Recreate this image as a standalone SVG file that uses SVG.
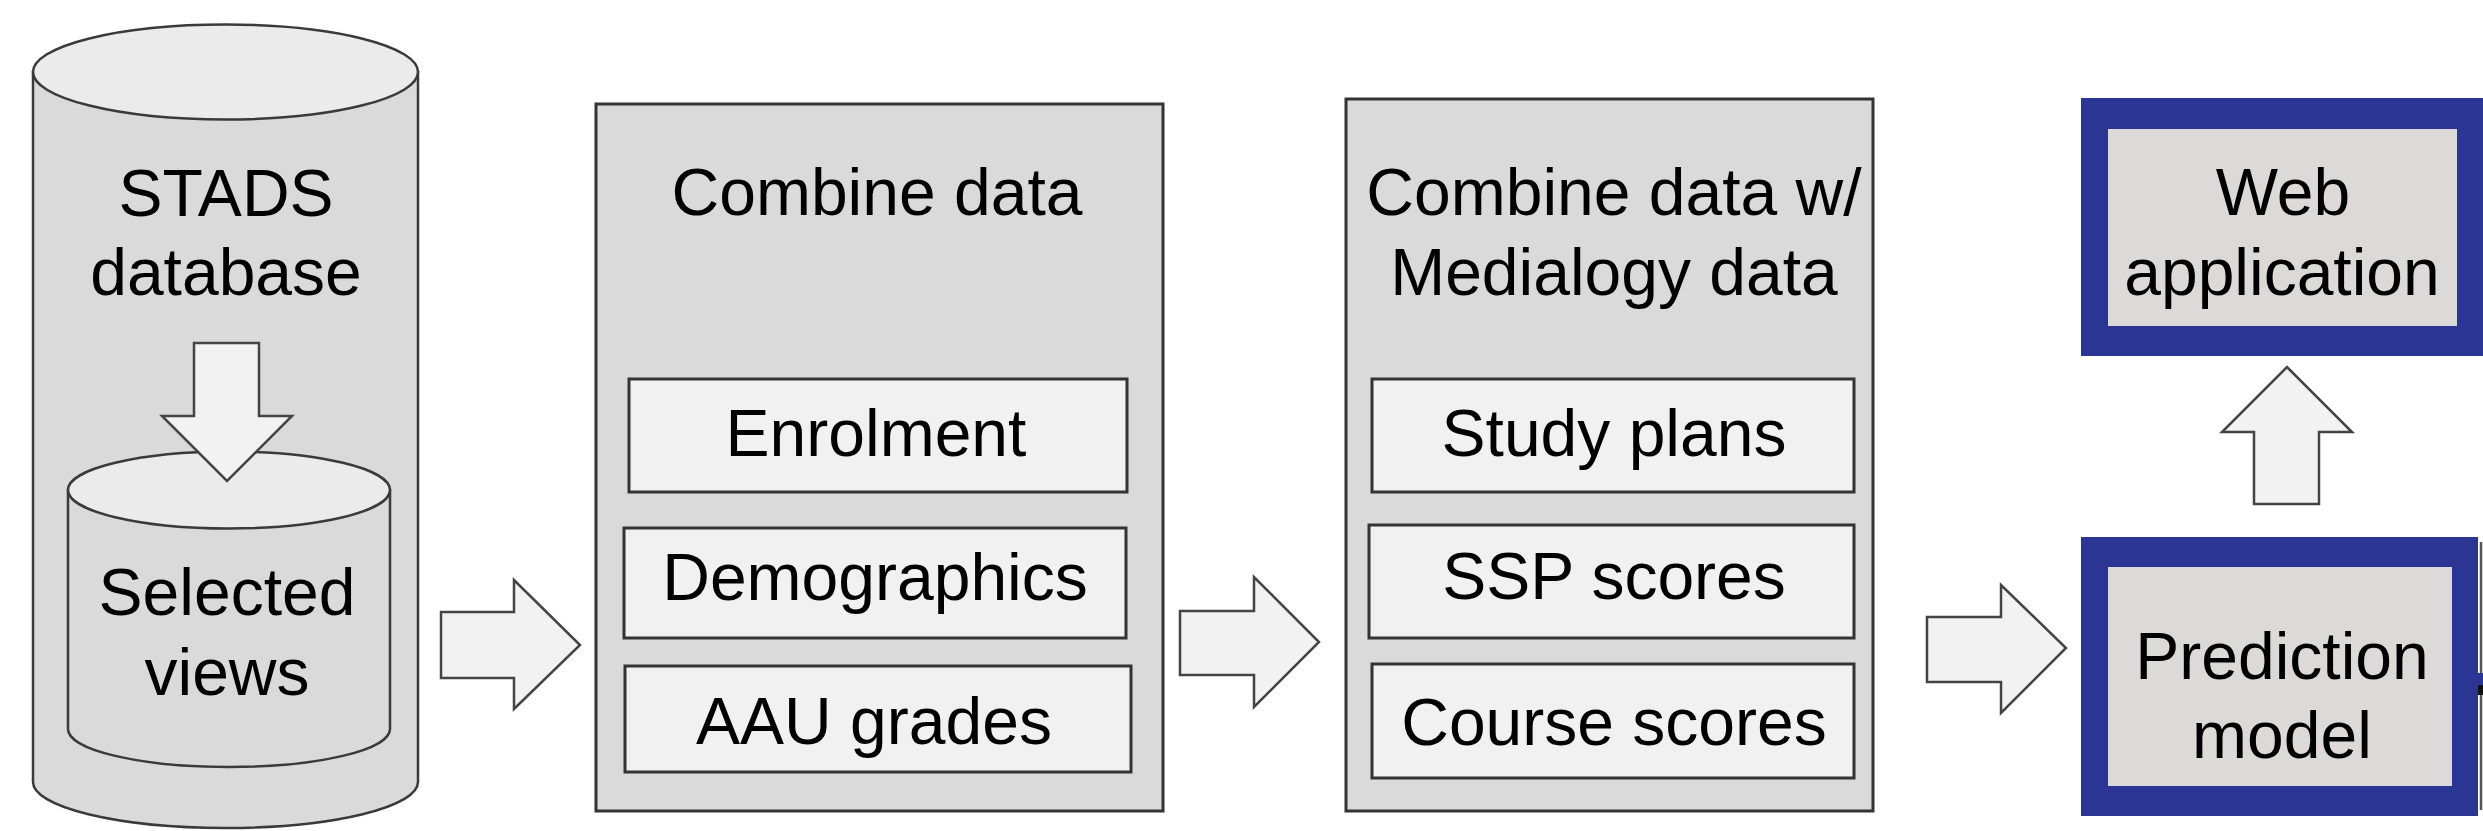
<svg xmlns="http://www.w3.org/2000/svg" width="2483" height="831" viewBox="0 0 2483 831">
<style>
text{font-family:"Liberation Sans",Arial,sans-serif;font-size:66px;fill:#000;text-anchor:middle}
.body{fill:#dadada;stroke:#3a3a3a;stroke-width:2.5}
.top{fill:#ebebeb;stroke:#3a3a3a;stroke-width:2.5}
.box{fill:#dadada;stroke:#333;stroke-width:3}
.item{fill:#f1f1f1;stroke:#333;stroke-width:3}
.blk{fill:#f2f2f2;stroke:#444;stroke-width:2.5;stroke-linejoin:miter}
.frame{fill:#2b3593}
.inner{fill:#dbdad9}
</style>
<rect width="2483" height="831" fill="#fff"/>
<g id="stads">
<path class="body" d="M33,72 L33,782 A192.5,46 0 0 0 418,782 L418,72 Z"/>
<ellipse class="top" cx="225.5" cy="72" rx="192.5" ry="47.5"/>
<text x="226" y="216">STADS</text>
<text x="226" y="295">database</text>
</g>
<g id="selected-views">
<path class="body" d="M68,490 L68,729 A161,38 0 0 0 390,729 L390,490 Z"/>
<ellipse class="top" cx="229" cy="490" rx="161" ry="38.5"/>
<text x="227" y="615">Selected</text>
<text x="227" y="695">views</text>
</g>
<g id="combine-data">
<rect class="box" x="596" y="104" width="567" height="707"/>
<text x="877" y="215">Combine data</text>
<rect class="item" x="629" y="379" width="498" height="113"/>
<text x="876" y="456">Enrolment</text>
<rect class="item" x="624" y="528" width="502" height="110"/>
<text x="875" y="600">Demographics</text>
<rect class="item" x="625" y="666" width="506" height="106"/>
<text x="874" y="744">AAU grades</text>
</g>
<g id="combine-medialogy">
<rect class="box" x="1346" y="99" width="527" height="712"/>
<text x="1614" y="215">Combine data w/</text>
<text x="1614" y="295">Medialogy data</text>
<rect class="item" x="1372" y="379" width="482" height="113"/>
<text x="1614" y="456">Study plans</text>
<rect class="item" x="1369" y="525" width="485" height="113"/>
<text x="1614" y="599">SSP scores</text>
<rect class="item" x="1372" y="664" width="482" height="114"/>
<text x="1614" y="745">Course scores</text>
</g>
<g id="web-application">
<rect class="frame" x="2081" y="98" width="402" height="258"/>
<rect class="inner" x="2108" y="129" width="349" height="197"/>
<text x="2283" y="215">Web</text>
<text x="2282" y="295">application</text>
</g>
<g id="prediction-model">
<rect class="frame" x="2081" y="537" width="397" height="279"/>
<rect class="inner" x="2108" y="567" width="344" height="219"/>
<text x="2282" y="679">Prediction</text>
<text x="2282" y="758">model</text>
<line x1="2481" y1="542" x2="2481" y2="810" stroke="#555" stroke-width="2.5"/>
<rect x="2478" y="673" width="5" height="12" fill="#2b3593"/>
<rect x="2478" y="685" width="5" height="10" fill="#111"/>
</g>
<g id="connectors">
<polygon class="blk" points="194,343 259,343 259,416 292,416 227,481 162,416 194,416"/>
<polygon class="blk" points="441,612 514,612 514,580 580,645 514,709 514,678 441,678"/>
<polygon class="blk" points="1180,611 1254,611 1254,577 1319,642 1254,707 1254,675 1180,675"/>
<polygon class="blk" points="1927,617 2001,617 2001,585 2066,648 2001,713 2001,682 1927,682"/>
<polygon class="blk" points="2254,504 2254,432 2222,432 2287,367 2352,432 2319,432 2319,504"/>
</g>
</svg>
